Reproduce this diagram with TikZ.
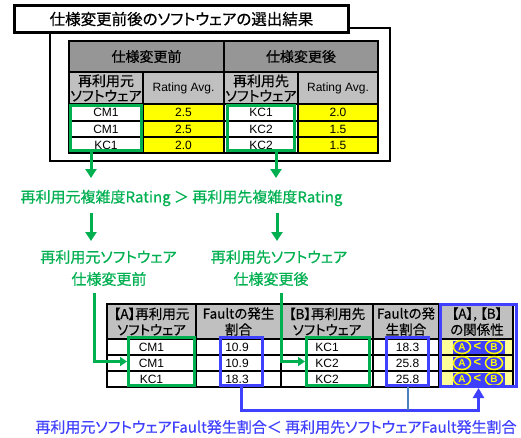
\documentclass[tikz,border=0pt]{standalone}
\usepackage{fontspec}
\setmainfont{Noto Sans CJK JP}[RawFeature={+palt}, FakeBold=0.5]
\newfontfamily\latin{Liberation Sans}
\usetikzlibrary{arrows.meta,shapes.geometric}
\definecolor{hdark}{RGB}{150,150,150}
\definecolor{hlight}{RGB}{192,192,192}
\definecolor{yel}{RGB}{255,255,0}
\definecolor{lyel}{RGB}{255,255,153}
\definecolor{grn}{RGB}{0,176,80}
\definecolor{blu}{RGB}{64,64,255}
\definecolor{stl}{RGB}{79,129,189}
\begin{document}
\begin{tikzpicture}[x=1pt,y=-1pt,
  cell/.style={inner sep=0pt, align=center},
  hdr/.style={cell, font=\fontsize{14}{15}\selectfont},
  hdrs/.style={cell, font=\fontsize{14}{15}\selectfont},
  lhdr/.style={cell, font=\fontsize{13.5}{16}\selectfont},
  dat/.style={cell, font=\latin\fontsize{12}{14}\selectfont},
  gbox/.style={draw=grn, line width=3pt, inner sep=0pt},
  bbox/.style={draw=blu, line width=3pt, inner sep=0pt},
  garrow/.style={draw=grn, line width=3pt, -{Triangle[width=11pt,length=9pt]}},
  gsarrow/.style={draw=grn, line width=3pt, -{Triangle[width=9pt,length=7pt]}},
  barrow/.style={draw=blu, line width=3pt, -{Triangle[width=11pt,length=10pt]}},
  gtext/.style={cell, text=grn, font=\fontsize{15}{16}\selectfont},
  circ/.style={ellipse, draw=yel, line width=1.5pt, text=yel, minimum width=17pt, minimum height=13pt, inner sep=0pt, font=\latin\bfseries\fontsize{10}{10}\selectfont}
]
\useasboundingbox (0,0) rectangle (521,437);

% ---------- upper part ----------
\draw[line width=2pt] (50,28) rectangle (390,161);
\node[draw, line width=3pt, fill=white, minimum width=334pt, minimum height=27pt, inner sep=0pt,
      font=\fontsize{15.5}{16}\selectfont] (title) at (181.5,19) {仕様変更前後のソフトウェアの選出結果};

\fill[hdark] (69,41) rectangle (378,72);
\fill[hlight] (69,72) rectangle (378,104);
\fill[yel] (143,104) rectangle (224,153);
\fill[yel] (298,104) rectangle (378,153);
\foreach \y in {72,104,121,137} \draw[line width=1.3pt] (69,\y) -- (378,\y);
\draw[line width=1.3pt] (224,41) -- (224,153);
\foreach \x in {143,298} \draw[line width=1.3pt] (\x,72) -- (\x,153);
\draw[line width=2pt] (69,41) rectangle (378,153);

\node[hdr] (uh1) at (146.5,56.5) {仕様変更前};
\node[hdr] (uh2) at (301,56.5) {仕様変更後};
\node[hdrs] (uh3) at (106,88) {再利用元\\ソフトウェア};
\node[dat] (uh4) at (183.5,88) {Rating Avg.};
\node[hdrs] (uh5) at (261,88) {再利用先\\ソフトウェア};
\node[dat] (uh6) at (338,88) {Rating Avg.};

\foreach \t/\y [count=\i] in {CM1/112.5,CM1/129,KC1/145} \node[dat] (ua\i) at (106,\y) {\t};
\foreach \t/\y [count=\i] in {2.5/112.5,2.5/129,2.0/145} \node[dat] (ub\i) at (183.5,\y) {\t};
\foreach \t/\y [count=\i] in {KC1/112.5,KC2/129,KC2/145} \node[dat] (uc\i) at (261,\y) {\t};
\foreach \t/\y [count=\i] in {2.0/112.5,1.5/129,1.5/145} \node[dat] (ud\i) at (338,\y) {\t};

\node[gbox, minimum width=71pt, minimum height=45pt] (g1) at (106,128) {};
\node[gbox, minimum width=67pt, minimum height=45pt] (g2) at (261,128) {};

% ---------- green flow ----------
\coordinate (t1) at (91,178);
\coordinate (t2) at (276,178);
\draw[garrow] (t1 |- g1.south) -- (t1);
\draw[garrow] (t2 |- g2.south) -- (t2);

\node[gtext] (cmp) at (181.5,198) {再利用元複雑度Rating ＞ 再利用先複雑度Rating};

\coordinate (f1) at (91,213);
\coordinate (e1) at (91,241);
\coordinate (f2) at (277,213);
\coordinate (e2) at (277,241);
\draw[garrow] (f1) -- (e1);
\draw[garrow] (f2) -- (e2);

\node[gtext] (l1) at (108.5,257) {再利用元ソフトウェア};
\node[gtext] (l2) at (109,279) {仕様変更前};
\node[gtext] (r1) at (279,257) {再利用先ソフトウェア};
\node[gtext] (r2) at (271,279) {仕様変更後};

% ---------- lower table ----------
\fill[hlight] (107,304) rectangle (513,339);
\fill[lyel] (439,339) rectangle (513,387);
\foreach \y in {339,355,371} \draw[line width=1.3pt] (107,\y) -- (513,\y);
\foreach \x in {196,281,373,439} \draw[line width=1.3pt] (\x,304) -- (\x,387);
\draw[line width=2pt] (107,304) rectangle (513,387);

\node[lhdr] (lh1) at (151.5,321.5) {【A】再利用元\\ソフトウェア};
\node[lhdr] (lh2) at (238.5,321.5) {Faultの発生\\割合};
\node[lhdr] (lh3) at (327,321.5) {【B】再利用先\\ソフトウェア};
\node[lhdr] (lh4) at (406,321.5) {Faultの発\\生割合};
\node[lhdr] (lh5) at (477,321.5) {【A】, 【B】\\の関係性};

\foreach \t/\y [count=\i] in {CM1/347,CM1/363,KC1/379} \node[dat] (la\i) at (151.5,\y) {\t};
\foreach \t/\y [count=\i] in {10.9/347,10.9/363,18.3/379} \node[dat] (lb\i) at (237,\y) {\t};
\foreach \t/\y [count=\i] in {KC1/347,KC2/363,KC2/379} \node[dat] (lc\i) at (327,\y) {\t};
\foreach \t/\y [count=\i] in {18.3/347,25.8/363,25.8/379} \node[dat] (ld\i) at (407.5,\y) {\t};

\foreach \y [count=\i] in {347,363,379} {
  \fill[blu] (453,\y-6.5) rectangle (505,\y+6.5);
  \node[circ] (ca\i) at (462,\y) {A};
  \node[cell, text=yel, font=\latin\bfseries\fontsize{13}{13}\selectfont] (lt\i) at (477.5,\y) {<};
  \node[circ] (cb\i) at (494,\y) {B};
}

\node[gbox, minimum width=66pt, minimum height=48pt] (g3) at (161.5,361.5) {};
\node[gbox, minimum width=63pt, minimum height=48pt] (g4) at (338,361.5) {};
\node[bbox, minimum width=42pt, minimum height=48pt] (b1) at (241.5,361.5) {};
\node[bbox, minimum width=42pt, minimum height=48pt] (b2) at (407.5,361.5) {};
\node[bbox, minimum width=76pt, minimum height=82pt] (B) at (478.5,345.5) {};

% lower green arrows
\coordinate (s3) at (94,293);
\coordinate (s4) at (281,293);
\draw[gsarrow] (s3) |- (g3.west);
\draw[gsarrow] (s4) |- (g4.west);

% blue connector
\coordinate (jn) at (0,410);
\draw[barrow] (b1.south) |- (jn -| B.south) -- (B.south);
\draw[stl, line width=2pt] (b2.south) -- (b2.south |- jn);

\node[cell, text=blu, font=\fontsize{15}{16}\selectfont] (concl) at (276,427) {再利用元ソフトウェアFault発生割合＜ 再利用先ソフトウェアFault発生割合};
\end{tikzpicture}
\end{document}
